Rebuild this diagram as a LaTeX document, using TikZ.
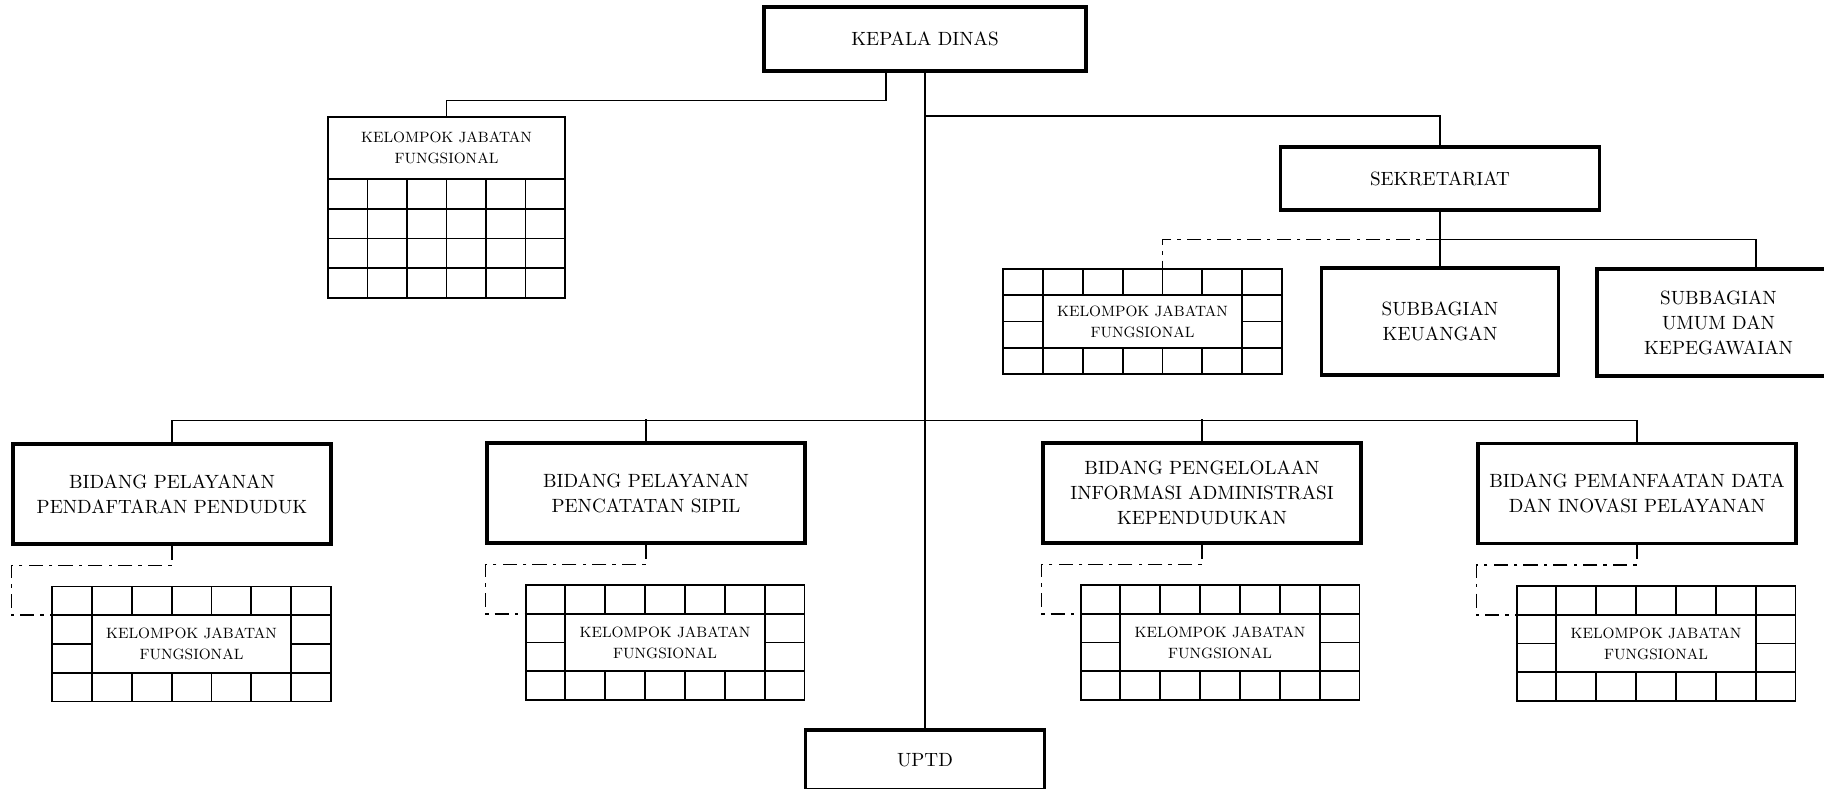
\documentclass[tikz,border=0pt]{standalone}
\usetikzlibrary{calc}

\tikzset{
  kotak/.style={draw, line width=1.8pt, align=center, inner sep=0pt,
    font=\fontsize{10.9}{14.2}\selectfont},
  bidang/.style={kotak, minimum width=6.36cm, minimum height=2cm},
  kjf/.style={draw, line width=1.1pt, align=center, inner sep=0pt, outer sep=0pt,
    font=\fontsize{8.5}{12}\selectfont},
  garis/.style={line width=1pt},
  putus/.style={line width=1pt, dash pattern=on 8pt off 3.5pt on 2pt off 3.5pt},
}

% kotak kelompok jabatan fungsional: nama, x, y (tengah), tinggi
\newcommand{\kjfgrid}[4]{%
  \node[kjf, minimum width=5.58cm, minimum height=#4*0.02cm] (#1) at (#2,#3)
    {KELOMPOK JABATAN\\FUNGSIONAL};
  \begin{scope}[shift={(#1.north west)}, line width=1.1pt]
    \foreach \i in {1,6} \draw (\i*39.86,0) -- (\i*39.86,#4);
    \foreach \i in {2,...,5} {
      \draw (\i*39.86,0) -- (\i*39.86,#4/4);
      \draw (\i*39.86,#4*3/4) -- (\i*39.86,#4);
    }
    \draw (0,#4/4) -- (279,#4/4);
    \draw (0,#4*3/4) -- (279,#4*3/4);
    \draw (0,#4/2) -- (39.86,#4/2);
    \draw (239.14,#4/2) -- (279,#4/2);
    \coordinate (#1-in) at (0,#4/4);
  \end{scope}}

\begin{document}
\begin{tikzpicture}[x=0.02cm, y=-0.02cm]
  \useasboundingbox (0,0) rectangle (1824,788);

  % Kepala dinas dan UPTD
  \node[kotak, minimum width=6.44cm, minimum height=1.28cm] (kadis) at (925,39) {KEPALA DINAS};
  \node[kotak, minimum width=4.78cm, minimum height=1.2cm] (uptd) at (925,760) {UPTD};
  \draw[garis] (kadis.south) -- (uptd.north);

  % Kelompok jabatan fungsional (atas)
  \node[kjf, minimum width=4.74cm, minimum height=1.24cm] (kjf1) at (446.5,148)
    {KELOMPOK JABATAN\\FUNGSIONAL};
  \begin{scope}[shift={(kjf1.south west)}, line width=1.1pt]
    \draw (0,0) rectangle (237,119);
    \foreach \i in {1,...,5} \draw (\i*39.5,0) -- (\i*39.5,119);
    \foreach \j in {1,2,3} \draw (0,\j*29.75) -- (237,\j*29.75);
  \end{scope}
  \draw[garis] ($(kadis.south)+(-39,0)$) -- ++(0,28) -| (kjf1.north);

  % Sekretariat
  \coordinate (cabang) at (925,116);
  \node[kotak, minimum width=6.38cm, minimum height=1.26cm] (sek) at (1440,178.5) {SEKRETARIAT};
  \draw[garis] (cabang) -| (sek.north);

  % Subbagian
  \node[kotak, minimum width=4.74cm, minimum height=2.14cm] (keu) at (1440,321.5)
    {SUBBAGIAN\\KEUANGAN};
  \node[kotak, minimum width=4.86cm, minimum height=2.14cm] (umum) at (1718.5,322.5)
    {SUBBAGIAN\\UMUM DAN\\KEPEGAWAIAN};
  \kjfgrid{kjf2}{1142.5}{321.5}{105}
  \coordinate (sekbagi) at ($(sek.south)+(0,28)$);
  \draw[garis] (sek.south) -- (keu.north);
  \draw[garis] (sekbagi) -| ($(umum.north)+(37.5,0)$);
  \draw[putus] (sekbagi) -| ($(kjf2.north)+(19.9,0)$);

  % Bidang
  \node[bidang] (bid1) at (172,494) {BIDANG PELAYANAN\\PENDAFTARAN PENDUDUK};
  \node[bidang] (bid2) at (646,493) {BIDANG PELAYANAN\\PENCATATAN SIPIL};
  \node[bidang] (bid3) at (1202,493) {BIDANG PENGELOLAAN\\INFORMASI ADMINISTRASI\\KEPENDUDUKAN};
  \node[bidang] (bid4) at (1637,493.5) {BIDANG PEMANFAATAN DATA\\DAN INOVASI PELAYANAN};
  \draw[garis] (bid1.north) -- ++(0,-22) -| (bid4.north);
  \foreach \b in {bid2,bid3} \draw[garis] (\b.north) -- ++(0,-22);

  % Kelompok jabatan fungsional tiap bidang
  \kjfgrid{kjf3}{191.5}{644}{115}
  \kjfgrid{kjf4}{665}{642.5}{115}
  \kjfgrid{kjf5}{1220}{642.5}{115}
  \kjfgrid{kjf6}{1656}{643.5}{115}
  \foreach \b/\k in {bid1/kjf3, bid2/kjf4, bid3/kjf5, bid4/kjf6}
    \draw[putus] (\b.south) -- ++(0,20) -| (\k-in -| \b.west) -- (\k-in);
\end{tikzpicture}
\end{document}
